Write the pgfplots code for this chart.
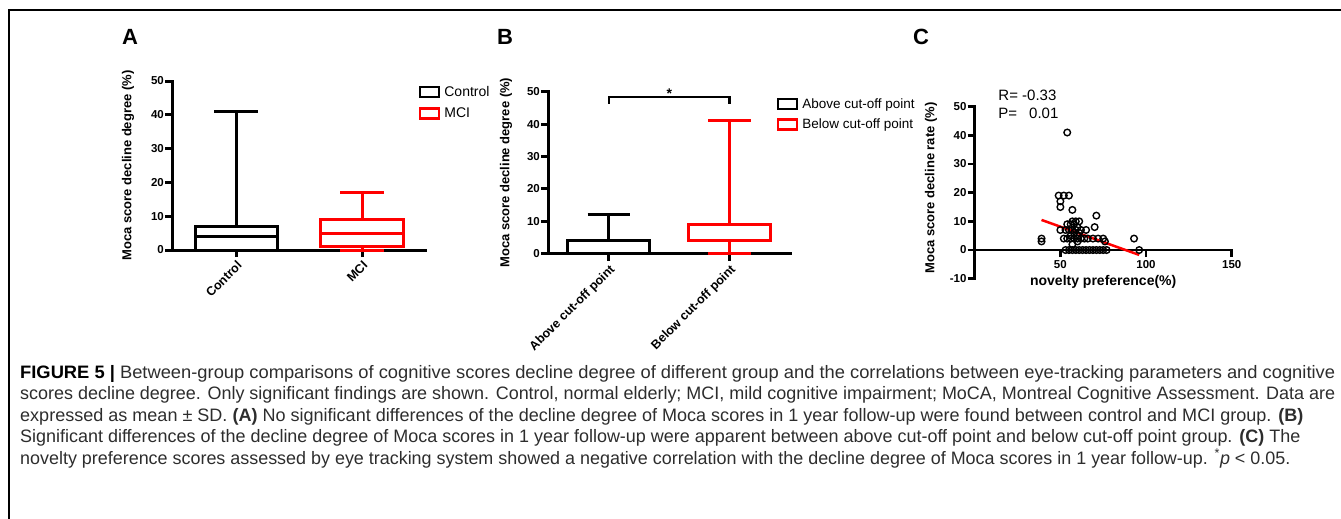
\documentclass[border=0pt]{standalone}
\usepackage{fontspec}
\setmainfont{Liberation Sans}
\newfontfamily\capfont{Liberation Sans}
\usepackage{graphicx}
\usepackage{pgfplots}
\pgfplotsset{compat=1.18}
\usepgfplotslibrary{statistics}
\definecolor{pred}{RGB}{255,0,0}
\definecolor{captxt}{RGB}{45,45,45}
\pgfplotsset{
  /pgf/number format/assume math mode=true,
  panelbox/.style={
    scale only axis, anchor=south west, clip=false,
    axis lines=left, axis line style={-, line width=3pt, line cap=rect},
    tick align=outside, major tick length=7pt,
    tick style={line width=3pt, black},
    xtick pos=bottom, ytick pos=left,
    boxplot/draw direction=y,
    yticklabel style={font=\fontsize{11.5}{13}\selectfont\bfseries, inner sep=1pt},
    xticklabel style={font=\fontsize{12.5}{14}\selectfont\bfseries, rotate=45, anchor=north east, inner sep=2pt},
    ylabel style={font=\fontsize{13}{15}\selectfont\bfseries, anchor=center},
    legend cell align=left,
    legend style={draw=none, fill=none, anchor=north west, inner sep=0pt, row sep=8pt,
      nodes={inner xsep=4pt, inner ysep=1pt}},
  },
}
\begin{document}
\begin{tikzpicture}[x=1pt,y=1pt]
\useasboundingbox (0pt,0pt) rectangle (1341pt,-519pt);
\draw[line width=1.3pt] (9pt,-519pt) -- (9pt,-10pt) -- (1341pt,-10pt);
\node[font=\fontsize{22}{24}\selectfont\bfseries] at (130pt,-37pt) {A};
\node[font=\fontsize{22}{24}\selectfont\bfseries] at (505pt,-37pt) {B};
\node[font=\fontsize{22}{24}\selectfont\bfseries] at (921pt,-37pt) {C};

% Panel A
\begin{axis}[panelbox, at={(172pt,-250pt)}, width=253pt, height=169pt,
  xmin=0.49, xmax=2.5, ymin=0, ymax=50, ytick={0,10,20,30,40,50},
  xtick={1,2}, xticklabels={Control,MCI},
  ylabel={Moca score decline degree (\%)},
  ylabel style={at={(axis description cs:-0.174,0.5)}},
  legend style={at={(axis description cs:0.975,0.975)}, font=\fontsize{14}{16}\selectfont}]
\addplot[black, line width=3pt, forget plot, boxplot prepared={lower whisker=0, lower quartile=0, median=4, upper quartile=7, upper whisker=41, draw position=1, box extend=0.65, whisker extend=0.35}] coordinates {};
\addplot[pred, line width=3pt, forget plot, boxplot prepared={lower whisker=0, lower quartile=1, median=5, upper quartile=9, upper whisker=17, draw position=2, box extend=0.66, whisker extend=0.35}] coordinates {};
\addlegendimage{legend image code/.code={\draw[black,line width=2.5pt] (0pt,-5pt) rectangle (19pt,5pt);}}
\addlegendentry{Control}
\addlegendimage{legend image code/.code={\draw[pred,line width=2.5pt] (0pt,-5pt) rectangle (19pt,5pt);}}
\addlegendentry{MCI}
\end{axis}

% Panel B
\begin{axis}[panelbox, at={(548pt,-253.7pt)}, width=242pt, height=162pt,
  xmin=0.496, xmax=2.5, ymin=0, ymax=50, ytick={0,10,20,30,40,50},
  xtick={1,2}, xticklabels={Above cut-off point,Below cut-off point},
  ylabel={Moca score decline degree (\%)},
  ylabel style={at={(axis description cs:-0.1736,0.5)}},
  legend style={at={(axis description cs:0.945,0.965)}, font=\fontsize{13.5}{16}\selectfont, row sep=7pt}]
\addplot[black, line width=3pt, forget plot, boxplot prepared={lower whisker=0, lower quartile=0, median=0, upper quartile=4, upper whisker=12, draw position=1, box extend=0.68, whisker extend=0.35}] coordinates {};
\addplot[pred, line width=3pt, forget plot, boxplot prepared={lower whisker=0, lower quartile=4, median=4, upper quartile=9, upper whisker=41, draw position=2, box extend=0.68, whisker extend=0.35}] coordinates {};
\draw[line width=2.5pt] (axis cs:1,46.3) -- (axis cs:1,48.3) -- (axis cs:2,48.3) -- (axis cs:2,46.3);
\node[font=\fontsize{14}{16}\selectfont\bfseries, anchor=south] at (axis cs:1.5,46.8) {*};
\addlegendimage{legend image code/.code={\draw[black,line width=2.5pt] (0pt,-5pt) rectangle (19pt,5pt);}}
\addlegendentry{Above cut-off point}
\addlegendimage{legend image code/.code={\draw[pred,line width=2.5pt] (0pt,-5pt) rectangle (19pt,5pt);}}
\addlegendentry{Below cut-off point}
\end{axis}

% Panel C
\begin{axis}[scale only axis, anchor=south west, clip=false, at={(974.7pt,-278.7pt)}, width=257pt, height=172pt,
  xmin=0, xmax=150, ymin=-10, ymax=50,
  axis x line=middle, axis y line=left, axis line style={-, line width=2.5pt, line cap=rect},
  tick align=outside, major tick length=7pt, tick style={line width=2.5pt, black},
  xtick={50,100,150}, ytick={-10,0,10,20,30,40,50},
  yticklabel style={font=\fontsize{11.5}{13}\selectfont\bfseries, inner sep=1pt},
  xticklabel style={font=\fontsize{11.5}{13}\selectfont\bfseries, inner sep=3pt},
  xlabel={novelty preference(\%)},
  xlabel style={font=\fontsize{14}{16}\selectfont\bfseries, at={(axis description cs:0.5,0)}, anchor=center, yshift=-3pt},
  ylabel={Moca score decline rate (\%)},
  ylabel style={font=\fontsize{13}{15}\selectfont\bfseries, at={(axis description cs:-0.17,0.527)}, anchor=center},
  ]
\addplot[only marks, mark=o, mark size=3.3pt, mark options={line width=1.4pt, black}] coordinates {
(54,41)
(49,19) (52,19) (55,19)
(50,17) (50,15)
(57,14)
(71,12)
(70,8)
(57,10) (59,10) (61,10)
(54,9) (56,9) (58,9) (60,8)
(50,7) (53,7) (55,7) (57,7) (59,7) (62,7) (65,7) (61,6) (58,6)
(56,5) (60,5)
(39,4) (39,3)
(52,4) (54,4) (56,4) (58,4) (60,4) (62,4) (64,4) (66,4) (69,4) (72,4) (75,4) (76,3) (60,3) (57,2)
(93,4)
(53,0) (55,0) (57,0) (59,0) (61,0) (63,0) (65,0) (67,0) (69,0) (71,0) (73,0) (75,0) (77,0)
(96,0)
};
\addplot[pred, line width=2.5pt] coordinates {(39,10.5) (96,-1.7)};
\node[font=\fontsize{15}{17}\selectfont, anchor=west] at (axis cs:11.8,53.8) {R= -0.33};
\node[font=\fontsize{15}{17}\selectfont, anchor=west] at (axis cs:11.8,47.7) {P=\hspace{12pt}0.01};
\end{axis}

% Caption
\begin{scope}[every node/.style={anchor=base west, inner sep=0pt, text=captxt, font=\capfont\fontsize{18}{20}\selectfont}]
\node at (20pt,-378pt) {\resizebox{1315pt}{\height}{\textbf{\color{black}FIGURE 5 |} Between-group comparisons of cognitive scores decline degree of different group and the correlations between eye-tracking parameters and cognitive}};
\node at (20pt,-399.5pt) {\resizebox{1315pt}{\height}{scores decline degree. Only significant findings are shown. Control, normal elderly; MCI, mild cognitive impairment; MoCA, Montreal Cognitive Assessment. Data are}};
\node at (20pt,-421pt) {\resizebox{1283pt}{\height}{expressed as mean \textpm{} SD. \textbf{(A)} No significant differences of the decline degree of Moca scores in 1 year follow-up were found between control and MCI group. \textbf{(B)}}};
\node at (20pt,-442.5pt) {\resizebox{1280pt}{\height}{Significant differences of the decline degree of Moca scores in 1 year follow-up were apparent between above cut-off point and below cut-off point group. \textbf{(C)} The}};
\node at (20pt,-464pt) {\resizebox{1270pt}{\height}{novelty preference scores assessed by eye tracking system showed a negative correlation with the decline degree of Moca scores in 1 year follow-up. \textsuperscript{*}\textit{p} < 0.05.}};
\end{scope}
\end{tikzpicture}
\end{document}
